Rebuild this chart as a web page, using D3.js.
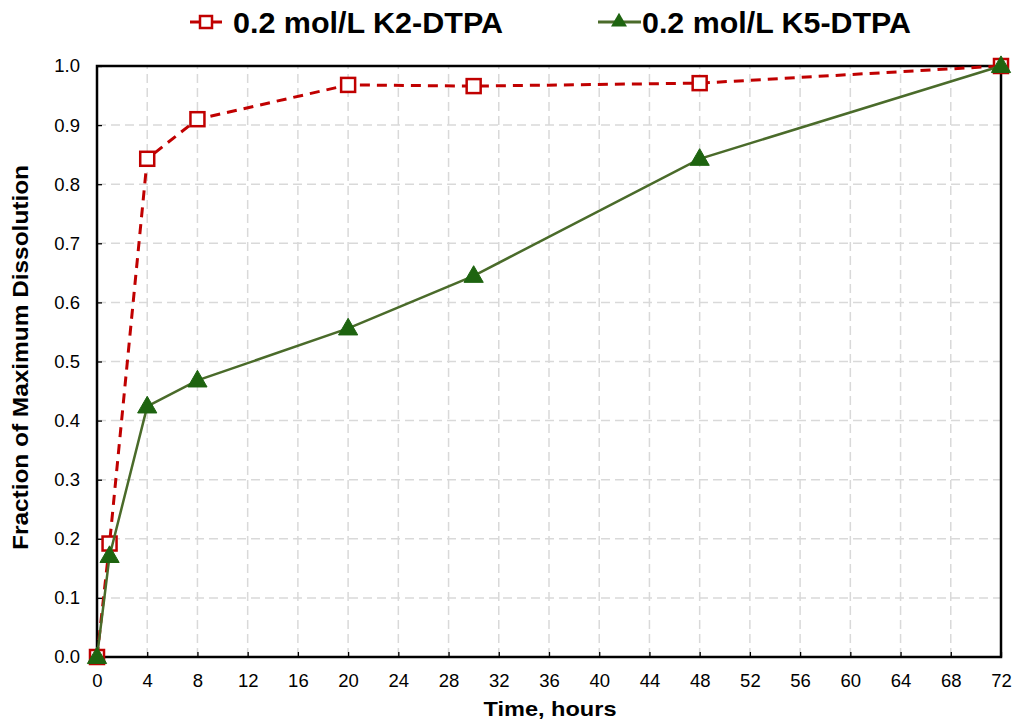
<!DOCTYPE html>
<html>
<head>
<meta charset="utf-8">
<script src="https://cdn.jsdelivr.net/npm/d3@7/dist/d3.min.js"></script>
<style>
  html, body { margin: 0; padding: 0; background: #fff; }
  svg { display: block; font-family: "Liberation Sans", Arial, sans-serif; }
</style>
</head>
<body>
<svg id="chart" width="1014" height="723"></svg>
<script>
// Sampling times (hours)
const hours = [0, 1, 4, 8, 20, 30, 48, 72];
// Fraction of maximum dissolution for each solution
const k2Values = [0, 0.192, 0.843, 0.910, 0.968, 0.966, 0.971, 1.0];
const k5Values = [0, 0.171, 0.424, 0.468, 0.556, 0.645, 0.843, 1.0];
const seriesNames = ["0.2 mol/L K2-DTPA", "0.2 mol/L K5-DTPA"];
const xTicks = d3.range(0, 73, 4);
const yTicks = d3.range(0, 11).map(i => i / 10);

const svg = d3.select("#chart");
const margin = { left: 97, right: 13, top: 66, bottom: 66 };
const W = 1014, H = 723;

const x = d3.scaleLinear().domain([0, 72]).range([margin.left, W - margin.right]);
const y = d3.scaleLinear().domain([0, 1]).range([H - margin.bottom, margin.top]);

const red = "#C00000";
const greenLine = "#4A6B2A";
const greenFill = "#1E6410";

// grid
const grid = svg.append("g");
grid.selectAll("line.v").data(xTicks.slice(1)).join("line")
  .attr("x1", d => x(d)).attr("x2", d => x(d))
  .attr("y1", y(0)).attr("y2", y(1))
  .attr("stroke", "#d9d9d9").attr("stroke-width", 1.5).attr("stroke-dasharray", "9,5");
grid.selectAll("line.h").data(yTicks.slice(1)).join("line")
  .attr("x1", x(0)).attr("x2", x(72))
  .attr("y1", d => y(d)).attr("y2", d => y(d))
  .attr("stroke", "#d9d9d9").attr("stroke-width", 1.5).attr("stroke-dasharray", "9,5");

// axes (inside ticks)
const xAxis = svg.append("g").attr("transform", `translate(0,${y(0)})`)
  .call(d3.axisBottom(x).tickValues(xTicks).tickSize(-5).tickPadding(17).tickFormat(d3.format("d")));
const yAxis = svg.append("g").attr("transform", `translate(${x(0)},0)`)
  .call(d3.axisLeft(y).tickValues(yTicks).tickSize(-5).tickPadding(17).tickFormat(d3.format(".1f")));
[xAxis, yAxis].forEach(a => {
  a.select(".domain").remove();
  a.selectAll(".tick line").attr("stroke", "#000").attr("stroke-width", 1.3);
  a.selectAll(".tick text").attr("font-size", 18.5).attr("fill", "#000")
    .attr("font-family", "'Liberation Sans', Arial, sans-serif");
});

// plot frame
svg.append("rect")
  .attr("x", x(0)).attr("y", y(1))
  .attr("width", x(72) - x(0)).attr("height", y(0) - y(1))
  .attr("fill", "none").attr("stroke", "#000").attr("stroke-width", 2.5);

const line = d3.line().x(d => x(d[0])).y(d => y(d[1]));
const k2 = hours.map((h, i) => [h, k2Values[i]]);
const k5 = hours.map((h, i) => [h, k5Values[i]]);

// K2-DTPA: dashed red with open squares
svg.append("path").datum(k2).attr("d", line)
  .attr("fill", "none").attr("stroke", red).attr("stroke-width", 3).attr("stroke-dasharray", "10,7");
const sq = 14;
svg.selectAll("rect.k2").data(k2).join("rect")
  .attr("x", d => x(d[0]) - sq / 2).attr("y", d => y(d[1]) - sq / 2)
  .attr("width", sq).attr("height", sq)
  .attr("fill", "#fff").attr("stroke", red).attr("stroke-width", 2.5);

// K5-DTPA: solid green with filled triangles
svg.append("path").datum(k5).attr("d", line)
  .attr("fill", "none").attr("stroke", greenLine).attr("stroke-width", 2.5);
const tri = d3.symbol().type(d3.symbolTriangle).size(160);
svg.selectAll("path.k5").data(k5).join("path")
  .attr("transform", d => `translate(${x(d[0])},${y(d[1]) + 1})`)
  .attr("d", tri).attr("fill", greenFill).attr("stroke", greenFill).attr("stroke-width", 1);

// legend
const legend = svg.append("g");
const legY = 22;
// K2 entry
legend.append("line").attr("x1", 190).attr("x2", 222).attr("y1", legY).attr("y2", legY)
  .attr("stroke", red).attr("stroke-width", 3);
legend.append("rect").attr("x", 200).attr("y", legY - 6).attr("width", 12).attr("height", 12)
  .attr("fill", "#fff").attr("stroke", red).attr("stroke-width", 2.5);
legend.append("text").attr("x", 233).attr("y", legY + 11)
  .attr("font-size", 29).attr("font-weight", "bold").attr("textLength", 270)
  .attr("lengthAdjust", "spacingAndGlyphs").text(seriesNames[0]);
// K5 entry
legend.append("line").attr("x1", 598).attr("x2", 641).attr("y1", legY).attr("y2", legY)
  .attr("stroke", greenLine).attr("stroke-width", 3);
legend.append("path").attr("transform", `translate(619,${legY})`)
  .attr("d", d3.symbol().type(d3.symbolTriangle).size(110)).attr("fill", greenFill);
legend.append("text").attr("x", 642).attr("y", legY + 11)
  .attr("font-size", 29).attr("font-weight", "bold").attr("textLength", 269)
  .attr("lengthAdjust", "spacingAndGlyphs").text(seriesNames[1]);

// axis titles
svg.append("text").attr("x", 550).attr("y", 716)
  .attr("text-anchor", "middle").attr("font-size", 21).attr("font-weight", "bold")
  .attr("textLength", 133).attr("lengthAdjust", "spacingAndGlyphs")
  .text("Time, hours");
svg.append("text")
  .attr("transform", `translate(28,${(y(0) + y(1)) / 2 - 4}) rotate(-90)`)
  .attr("text-anchor", "middle").attr("font-size", 22).attr("font-weight", "bold")
  .attr("textLength", 385).attr("lengthAdjust", "spacingAndGlyphs")
  .text("Fraction of Maximum Dissolution");
</script>
</body>
</html>
